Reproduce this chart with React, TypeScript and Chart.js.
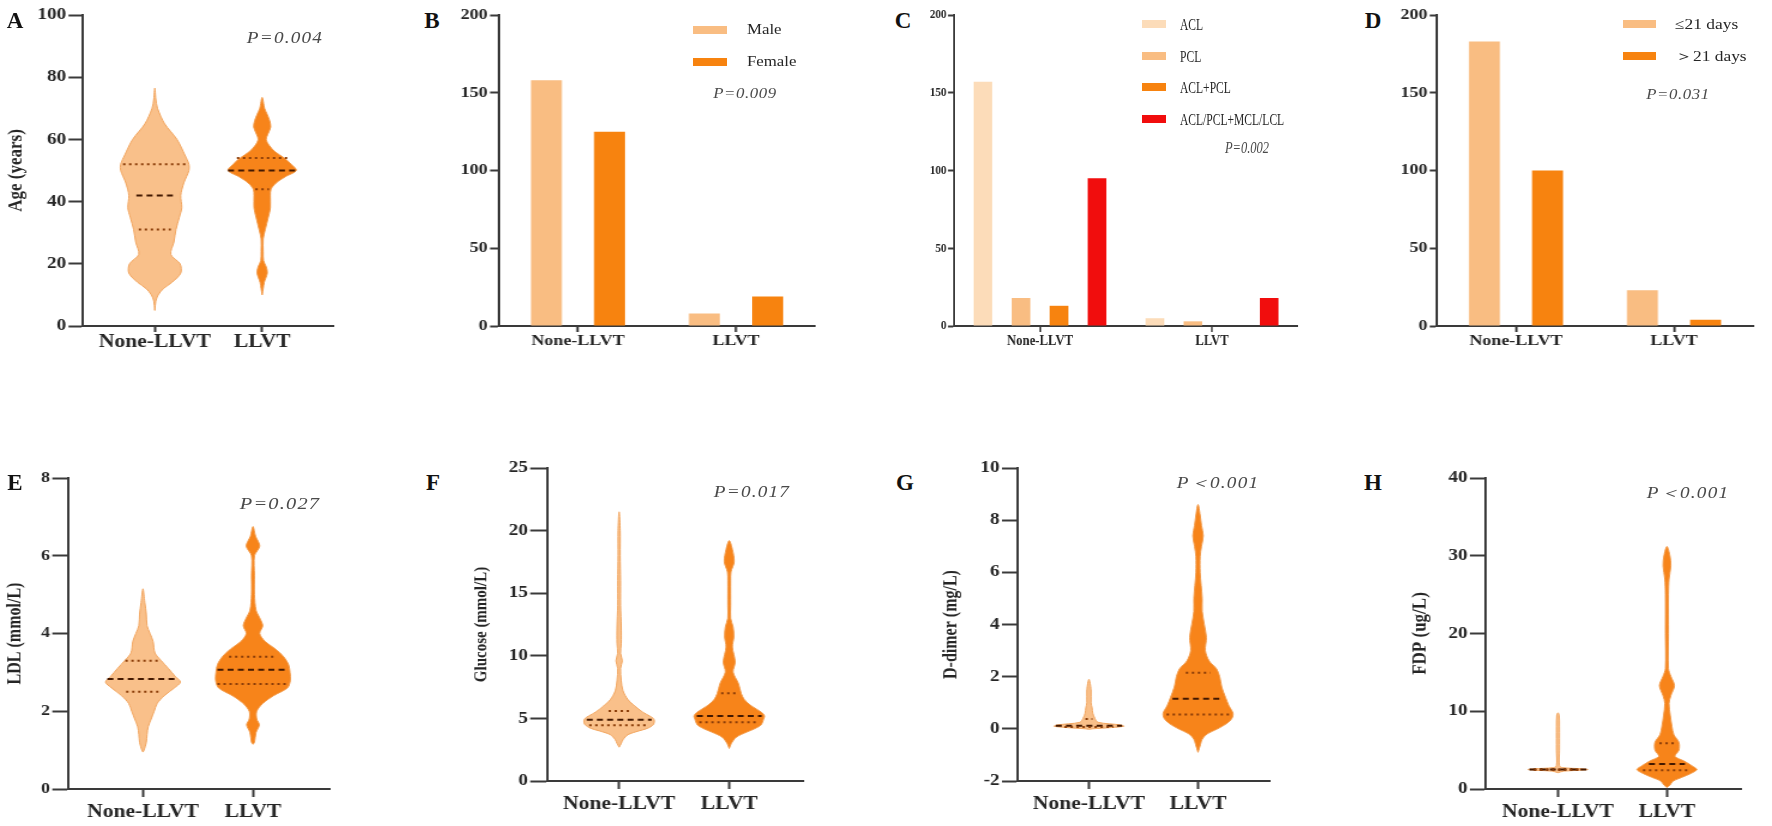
import { useEffect, useRef } from "react";
import Chart from "chart.js/auto";

const SERIF = '"Liberation Serif", "Times New Roman", serif';
const SX = 1.2; // the figure is slightly stretched sideways

const groups = ["None-LLVT", "LLVT"];

// B: sex
const sexLabels = ["Male", "Female"];
const maleCounts = [158, 8];
const femaleCounts = [125, 19];

// C: injury type
const injuryLabels = ["ACL", "PCL", "ACL+PCL", "ACL/PCL+MCL/LCL"];
const aclCounts = [157, 5];
const pclCounts = [18, 3];
const aclPclCounts = [13, 0];
const multiCounts = [95, 18];

// D: time to surgery
const timeLabels = ["≤21 days", "＞21 days"];
const earlyCounts = [183, 23];
const lateCounts = [100, 4];

// violins: value levels, relative half widths, quartiles [q1, median, q3] and their line widths
const ageNoneY = [5, 8, 10, 12, 14, 17, 20, 23, 27, 31, 35, 38, 42, 46, 50, 52, 55, 60, 65, 70, 73, 76.5];
const ageNoneW = [0, 0.03, 0.1, 0.25, 0.5, 0.76, 0.74, 0.47, 0.56, 0.62, 0.72, 0.79, 0.76, 0.85, 1, 1, 0.88, 0.65, 0.29, 0.08, 0.03, 0];
const ageNoneQ = [31, 42, 52];
const ageNoneQW = [0.47, 0.54, 0.93];
const ageLlvtY = [10, 12, 14, 17, 19, 21, 24, 28, 31, 35, 38, 42, 44, 46, 48, 50, 52, 54, 56, 58, 60, 62, 64, 66, 68, 70, 73.5];
const ageLlvtW = [0, 0.03, 0.06, 0.15, 0.12, 0.04, 0.03, 0.03, 0.09, 0.18, 0.24, 0.24, 0.26, 0.41, 0.68, 1, 0.85, 0.65, 0.38, 0.21, 0.12, 0.18, 0.25, 0.22, 0.15, 0.07, 0];
const ageLlvtQ = [44, 50, 54];
const ageLlvtQW = [0.2, 1.0, 0.74];

const ldlNoneY = [0.95, 1.0, 1.2, 1.4, 1.6, 1.8, 2.0, 2.2, 2.4, 2.6, 2.75, 2.9, 3.1, 3.3, 3.5, 3.8, 4.0, 4.2, 4.5, 4.8, 5.15];
const ldlNoneW = [0, 0.03, 0.09, 0.11, 0.14, 0.22, 0.3, 0.38, 0.57, 0.84, 1, 0.86, 0.68, 0.49, 0.32, 0.27, 0.19, 0.11, 0.09, 0.05, 0];
const ldlNoneQ = [2.5, 2.83, 3.3];
const ldlNoneQW = [0.45, 0.95, 0.47];
const ldlLlvtY = [1.15, 1.2, 1.45, 1.65, 1.8, 2.0, 2.2, 2.4, 2.6, 2.8, 3.0, 3.2, 3.4, 3.6, 3.8, 4.0, 4.2, 4.4, 4.6, 5.0, 5.5, 6.0, 6.25, 6.5, 6.75];
const ldlLlvtW = [0, 0.04, 0.08, 0.17, 0.1, 0.1, 0.26, 0.55, 0.92, 1, 0.99, 0.95, 0.82, 0.6, 0.32, 0.18, 0.26, 0.18, 0.08, 0.04, 0.04, 0.04, 0.18, 0.07, 0];
const ldlLlvtQ = [2.7, 3.07, 3.4];
const ldlLlvtQW = [0.95, 0.95, 0.64];

const gluNoneY = [2.7, 3.0, 3.3, 3.7, 4.0, 4.2, 4.5, 4.8, 5.0, 5.2, 5.5, 6.0, 6.5, 7.2, 8.0, 9.0, 9.6, 10.2, 11, 12.3, 14, 16, 18, 20, 21.5];
const gluNoneW = [0, 0.06, 0.11, 0.25, 0.56, 0.8, 0.97, 1, 0.97, 0.86, 0.67, 0.44, 0.25, 0.11, 0.06, 0.04, 0.09, 0.04, 0.06, 0.06, 0.04, 0.04, 0.03, 0.03, 0];
const gluNoneQ = [4.45, 4.9, 5.6];
const gluNoneQW = [0.85, 0.92, 0.3];
const gluLlvtY = [2.6, 3.0, 3.5, 3.9, 4.2, 4.5, 4.9, 5.2, 5.5, 6.0, 6.5, 7.0, 7.8, 8.7, 9.5, 10.7, 11.5, 12.3, 13, 14, 16, 16.7, 17.5, 18.5, 19.2];
const gluLlvtW = [0, 0.06, 0.2, 0.49, 0.74, 0.91, 0.97, 1, 0.91, 0.63, 0.43, 0.34, 0.26, 0.11, 0.17, 0.09, 0.13, 0.11, 0.04, 0.04, 0.04, 0.05, 0.14, 0.09, 0];
const gluLlvtQ = [4.7, 5.2, 7.0];
const gluLlvtQW = [0.85, 0.92, 0.23];

const ddNoneY = [-0.02, 0.0, 0.05, 0.1, 0.15, 0.25, 0.4, 0.6, 0.8, 1.0, 1.5, 1.9];
const ddNoneW = [0, 0.09, 0.66, 1, 0.91, 0.26, 0.17, 0.11, 0.09, 0.06, 0.06, 0];
const ddNoneQ = [0.07, 0.12, 0.38];
const ddNoneQW = [0.7, 0.95, 0.1];
const ddLlvtY = [-0.9, -0.6, -0.4, -0.2, 0.0, 0.2, 0.4, 0.6, 0.9, 1.2, 1.6, 2.0, 2.3, 2.6, 3.0, 3.5, 4.0, 4.5, 5.0, 5.5, 6.0, 6.6, 7.0, 7.4, 7.8, 8.2, 8.6];
const ddLlvtW = [0, 0.07, 0.12, 0.26, 0.56, 0.82, 0.97, 1, 0.88, 0.79, 0.68, 0.62, 0.53, 0.32, 0.21, 0.24, 0.18, 0.12, 0.12, 0.09, 0.06, 0.06, 0.1, 0.15, 0.1, 0.06, 0];
const ddLlvtQ = [0.55, 1.15, 2.15];
const ddLlvtQW = [0.9, 0.73, 0.35];

const fdpNoneY = [2.1, 2.3, 2.4, 2.5, 2.6, 2.75, 3.0, 5, 8, 9.5, 9.8];
const fdpNoneW = [0, 0.2, 0.7, 1, 0.8, 0.15, 0.05, 0.05, 0.05, 0.04, 0];
const fdpNoneQ = [2.45, 2.5, 2.55];
const fdpNoneQW = [0.8, 0.95, 0.8];
const fdpLlvtY = [0.2, 0.5, 1.0, 1.5, 2.0, 2.5, 3.0, 3.6, 4.2, 5.0, 6.0, 7.0, 8.0, 9.5, 11, 12, 13.3, 14.5, 15.5, 20, 25, 27, 28.7, 30, 31.2];
const fdpLlvtW = [0, 0.1, 0.2, 0.5, 0.8, 1, 0.83, 0.57, 0.27, 0.4, 0.4, 0.23, 0.17, 0.11, 0.07, 0.13, 0.25, 0.13, 0.05, 0.05, 0.05, 0.07, 0.13, 0.1, 0];
const fdpLlvtQ = [2.4, 3.2, 5.9];
const fdpLlvtQW = [0.8, 0.6, 0.25];

const AXIS = "#3a3a3a";
const TEXT = "#262626";
const PALE = "#fcdcb9";
const LIGHT = "#f9bd82";
const DARK = "#f7830f";
const RED = "#f10d0d";
const NONE_FILL = "#f9c08a";
const NONE_EDGE = "#f2a660";
const LLVT_FILL = "#f7841a";
const LLVT_EDGE = "#f39a48";

const font = (size: number, weight = "bold") => ({ family: SERIF, size, weight });

function frame(p: any, sx: number) {
  return {
    yW: (p.axis.left - p.box.x) / sx,
    padRight: (p.box.x + p.box.w - p.axis.right) / sx,
    padTop: p.axis.top - p.box.y,
    xH: p.box.y + p.box.h - p.axis.bottom,
  };
}

function yScale(p: any, yW: number) {
  return {
    min: p.yMin,
    max: p.yMax,
    border: { display: true, color: AXIS, width: 2 },
    grid: { drawOnChartArea: false, tickLength: p.tickLen, tickWidth: 2, tickColor: AXIS },
    ticks: { stepSize: p.yStep, color: TEXT, font: font(p.tickSize), padding: 2 },
    title: p.title
      ? { display: true, text: p.title, color: TEXT, font: font(p.titleSize), padding: { top: 3, bottom: 0 } }
      : { display: false },
    afterFit: (s: any) => {
      s.width = yW;
    },
  };
}

function violinSets(center: number, v: any, maxW: number, fill: string, edge: string) {
  const right = v.ys.map((y: number, i: number) => ({ x: center + v.ws[i] * maxW, y }));
  const left = v.ys
    .slice(0, -1)
    .map((y: number, i: number) => ({ x: center - v.ws[i] * maxW, y }))
    .reverse();
  const shape = {
    data: [...right, ...left],
    fill: "shape",
    backgroundColor: fill,
    borderColor: edge,
    borderWidth: 1,
    pointRadius: 0,
    tension: 0.3,
    order: 2,
  };
  // quartile lines go on top of the shapes
  const lines = v.q.map((q: number, i: number) => ({
    data: [
      { x: center - v.qw[i] * maxW, y: q },
      { x: center + v.qw[i] * maxW, y: q },
    ],
    borderColor: i === 1 ? "#431800" : "#8a3c08",
    borderDash: i === 1 ? [5, 3.5] : [2, 3],
    borderWidth: 2,
    pointRadius: 0,
    fill: false,
    order: 1,
  }));
  return [shape, ...lines];
}

function violinConfig(p: any) {
  const f = frame(p, SX);
  return {
    type: "line",
    data: {
      datasets: [
        ...violinSets(1, p.none, p.maxW, NONE_FILL, NONE_EDGE),
        ...violinSets(2, p.llvt, p.maxW, LLVT_FILL, LLVT_EDGE),
      ],
    },
    options: {
      animation: false,
      responsive: false,
      events: [],
      layout: { padding: { left: 0, top: f.padTop, right: f.padRight, bottom: 0 } },
      plugins: { legend: { display: false }, tooltip: { enabled: false } },
      scales: {
        x: {
          type: "linear",
          min: p.xRange[0],
          max: p.xRange[1],
          border: { display: true, color: AXIS, width: 2 },
          grid: { drawOnChartArea: false, tickLength: p.xTickLen, tickWidth: 2, tickColor: AXIS },
          afterBuildTicks: (s: any) => {
            s.ticks = [{ value: 1 }, { value: 2 }];
          },
          ticks: {
            callback: (v: number) => groups[v - 1],
            color: TEXT,
            font: font(p.labelSize),
            padding: p.labelPad,
            autoSkip: false,
            maxRotation: 0,
            minRotation: 0,
          },
          afterFit: (s: any) => {
            s.height = f.xH;
          },
        },
        y: yScale(p, f.yW),
      },
    },
  };
}

function barConfig(p: any) {
  const f = frame(p, p.sx);
  return {
    type: "bar",
    data: {
      labels: groups,
      datasets: p.series.map((s: any) => ({
        label: s.label,
        data: s.data,
        backgroundColor: s.color,
        borderWidth: 0,
        categoryPercentage: p.cp,
        barPercentage: p.bp,
      })),
    },
    options: {
      animation: false,
      responsive: false,
      events: [],
      layout: { padding: { left: 0, top: f.padTop, right: f.padRight, bottom: 0 } },
      plugins: { legend: { display: false }, tooltip: { enabled: false } },
      scales: {
        x: {
          offset: true,
          border: { display: true, color: AXIS, width: 2 },
          grid: { offset: false, drawOnChartArea: false, tickLength: p.xTickLen, tickWidth: 2, tickColor: AXIS },
          ticks: { color: TEXT, font: font(p.labelSize), padding: p.labelPad, maxRotation: 0 },
          afterFit: (s: any) => {
            s.height = f.xH;
          },
        },
        y: yScale(p, f.yW),
      },
    },
  };
}

const violin = (ys: number[], ws: number[], q: number[], qw: number[]) => ({ ys, ws, q, qw });

const panelA = {
  box: { x: 0, y: 0, w: 345, h: 385 },
  axis: { left: 83, right: 333, top: 15, bottom: 326 },
  xRange: [0.33, 2.66], yMin: 0, yMax: 100, yStep: 20,
  title: "Age (years)", titleSize: 17, tickSize: 16, tickLen: 12,
  labelSize: 18, xTickLen: 6, labelPad: 0, maxW: 0.318,
  none: violin(ageNoneY, ageNoneW, ageNoneQ, ageNoneQW),
  llvt: violin(ageLlvtY, ageLlvtW, ageLlvtQ, ageLlvtQW),
};
const panelE = {
  box: { x: 0, y: 440, w: 345, h: 386 },
  axis: { left: 68, right: 330, top: 478, bottom: 789 },
  xRange: [0.318, 2.7], yMin: 0, yMax: 8, yStep: 2,
  title: "LDL (mmol/L)", titleSize: 16, tickSize: 15, tickLen: 13,
  labelSize: 18, xTickLen: 8, labelPad: 5, maxW: 0.34,
  none: violin(ldlNoneY, ldlNoneW, ldlNoneQ, ldlNoneQW),
  llvt: violin(ldlLlvtY, ldlLlvtW, ldlLlvtQ, ldlLlvtQW),
};
const panelF = {
  box: { x: 467, y: 440, w: 348, h: 386 },
  axis: { left: 547, right: 803, top: 468, bottom: 781 },
  xRange: [0.345, 2.67], yMin: 0, yMax: 25, yStep: 5,
  title: "Glucose (mmol/L)", titleSize: 15, tickSize: 16, tickLen: 14,
  labelSize: 18, xTickLen: 8, labelPad: 5, maxW: 0.32,
  none: violin(gluNoneY, gluNoneW, gluNoneQ, gluNoneQW),
  llvt: violin(gluLlvtY, gluLlvtW, gluLlvtQ, gluLlvtQW),
};
const panelG = {
  box: { x: 936, y: 440, w: 349, h: 386 },
  axis: { left: 1017, right: 1270, top: 468, bottom: 781 },
  xRange: [0.34, 2.66], yMin: -2, yMax: 10, yStep: 2,
  title: "D-dimer (mg/L)", titleSize: 16, tickSize: 16, tickLen: 12.5,
  labelSize: 18, xTickLen: 8, labelPad: 5, maxW: 0.32,
  none: violin(ddNoneY, ddNoneW, ddNoneQ, ddNoneQW),
  llvt: violin(ddLlvtY, ddLlvtW, ddLlvtQ, ddLlvtQW),
};
const panelH = {
  box: { x: 1404, y: 440, w: 356, h: 386 },
  axis: { left: 1485, right: 1741, top: 478, bottom: 789 },
  xRange: [0.33, 2.68], yMin: 0, yMax: 40, yStep: 10,
  title: "FDP (ug/L)", titleSize: 17, tickSize: 16, tickLen: 12.5,
  labelSize: 18, xTickLen: 8, labelPad: 5, maxW: 0.275,
  none: violin(fdpNoneY, fdpNoneW, fdpNoneQ, fdpNoneQW),
  llvt: violin(fdpLlvtY, fdpLlvtW, fdpLlvtQ, fdpLlvtQW),
};

const panelB = {
  box: { x: 445, y: 0, w: 385, h: 385 },
  axis: { left: 499, right: 815, top: 15, bottom: 326 },
  sx: SX, cp: 0.8, bp: 0.49, yMin: 0, yMax: 200, yStep: 50,
  tickSize: 15, tickLen: 7.5, labelSize: 15, xTickLen: 6, labelPad: 0,
  series: [
    { label: sexLabels[0], data: maleCounts, color: LIGHT },
    { label: sexLabels[1], data: femaleCounts, color: DARK },
  ],
};
const panelC = {
  box: { x: 915, y: 0, w: 395, h: 385 },
  axis: { left: 954, right: 1298, top: 15, bottom: 326 },
  sx: 0.85, cp: 0.885, bp: 0.49, yMin: 0, yMax: 200, yStep: 50,
  tickSize: 13, tickLen: 7, labelSize: 15, xTickLen: 6, labelPad: 0,
  series: [
    { label: injuryLabels[0], data: aclCounts, color: PALE },
    { label: injuryLabels[1], data: pclCounts, color: LIGHT },
    { label: injuryLabels[2], data: aclPclCounts, color: DARK },
    { label: injuryLabels[3], data: multiCounts, color: RED },
  ],
};
const panelD = {
  box: { x: 1390, y: 0, w: 375, h: 385 },
  axis: { left: 1437, right: 1753, top: 15, bottom: 326 },
  sx: SX, cp: 0.8, bp: 0.49, yMin: 0, yMax: 200, yStep: 50,
  tickSize: 15, tickLen: 6, labelSize: 15, xTickLen: 6, labelPad: 0,
  series: [
    { label: timeLabels[0], data: earlyCounts, color: LIGHT },
    { label: timeLabels[1], data: lateCounts, color: DARK },
  ],
};

function ChartCanvas({ box, sx, make }: { box: any; sx: number; make: () => any }) {
  const ref = useRef<HTMLCanvasElement | null>(null);
  useEffect(() => {
    if (!ref.current) return;
    const chart = new Chart(ref.current, make());
    return () => {
      chart.destroy();
    };
  }, []);
  return (
    <canvas
      ref={ref}
      width={Math.round(box.w / sx)}
      height={box.h}
      style={{ position: "absolute", left: box.x, top: box.y, width: box.w, height: box.h }}
    />
  );
}

function Txt({ x, y, children, size, bold = false, italic = false, color = TEXT, sx = SX, align = "center", ls = 0 }: any) {
  const center = align === "center";
  return (
    <div
      style={{
        position: "absolute",
        left: x,
        top: y,
        fontFamily: SERIF,
        fontSize: size,
        fontWeight: bold ? "bold" : "normal",
        fontStyle: italic ? "italic" : "normal",
        letterSpacing: ls,
        color,
        whiteSpace: "nowrap",
        lineHeight: 1,
        transform: `${center ? "translate(-50%, -50%)" : "translate(0, -50%)"} scaleX(${sx})`,
        transformOrigin: center ? "50% 50%" : "0 50%",
      }}
    >
      {children}
    </div>
  );
}

function Swatch({ x, y, w, color }: { x: number; y: number; w: number; color: string }) {
  return <div style={{ position: "absolute", left: x, top: y - 4, width: w, height: 8, background: color }} />;
}

const P_GRAY = "#4a4a4a";

export default function App() {
  return (
    <div style={{ position: "absolute", left: 0, top: 0, width: 1772, height: 826, background: "#fff", overflow: "hidden" }}>
      <ChartCanvas box={panelA.box} sx={SX} make={() => violinConfig(panelA)} />
      <ChartCanvas box={panelB.box} sx={panelB.sx} make={() => barConfig(panelB)} />
      <ChartCanvas box={panelC.box} sx={panelC.sx} make={() => barConfig(panelC)} />
      <ChartCanvas box={panelD.box} sx={panelD.sx} make={() => barConfig(panelD)} />
      <ChartCanvas box={panelE.box} sx={SX} make={() => violinConfig(panelE)} />
      <ChartCanvas box={panelF.box} sx={SX} make={() => violinConfig(panelF)} />
      <ChartCanvas box={panelG.box} sx={SX} make={() => violinConfig(panelG)} />
      <ChartCanvas box={panelH.box} sx={SX} make={() => violinConfig(panelH)} />

      {/* panel letters */}
      <Txt x={15} y={20} size={23} bold sx={1} color="#111">A</Txt>
      <Txt x={432} y={20} size={23} bold sx={1} color="#111">B</Txt>
      <Txt x={903} y={20} size={23} bold sx={1} color="#111">C</Txt>
      <Txt x={1373} y={20} size={23} bold sx={1} color="#111">D</Txt>
      <Txt x={15} y={482} size={23} bold sx={1} color="#111">E</Txt>
      <Txt x={433} y={482} size={23} bold sx={1} color="#111">F</Txt>
      <Txt x={905} y={482} size={23} bold sx={1} color="#111">G</Txt>
      <Txt x={1373} y={482} size={23} bold sx={1} color="#111">H</Txt>

      {/* P values */}
      <Txt x={285} y={38} size={16} italic ls={1} color={P_GRAY}>P=0.004</Txt>
      <Txt x={745} y={94} size={14} italic ls={0.5} color={P_GRAY}>P=0.009</Txt>
      <Txt x={1247} y={148} size={16} italic sx={0.78} color={P_GRAY}>P=0.002</Txt>
      <Txt x={1678} y={95} size={14} italic ls={0.5} color={P_GRAY}>P=0.031</Txt>
      <Txt x={280} y={503} size={17} italic ls={1} color={P_GRAY}>P=0.027</Txt>
      <Txt x={752} y={492} size={16} italic ls={1} color={P_GRAY}>P=0.017</Txt>
      <Txt x={1218} y={483} size={16} italic ls={1} color={P_GRAY}>P＜0.001</Txt>
      <Txt x={1688} y={493} size={16} italic ls={1} color={P_GRAY}>P＜0.001</Txt>

      {/* legend B */}
      {panelB.series.map((s, i) => (
        <div key={s.label}>
          <Swatch x={693} y={30 + i * 32} w={34} color={s.color} />
          <Txt x={747} y={30 + i * 32} size={14} align="left">{s.label}</Txt>
        </div>
      ))}
      {/* legend C */}
      {panelC.series.map((s, i) => (
        <div key={s.label}>
          <Swatch x={1142} y={24 + i * 31.7} w={24} color={s.color} />
          <Txt x={1180} y={24 + i * 31.7} size={17} sx={0.68} align="left">{s.label}</Txt>
        </div>
      ))}
      {/* legend D */}
      {panelD.series.map((s, i) => (
        <div key={s.label}>
          <Swatch x={1623} y={24 + i * 32} w={33} color={s.color} />
          <Txt x={1675} y={24 + i * 32} size={14.5} align="left">{s.label}</Txt>
        </div>
      ))}
    </div>
  );
}
